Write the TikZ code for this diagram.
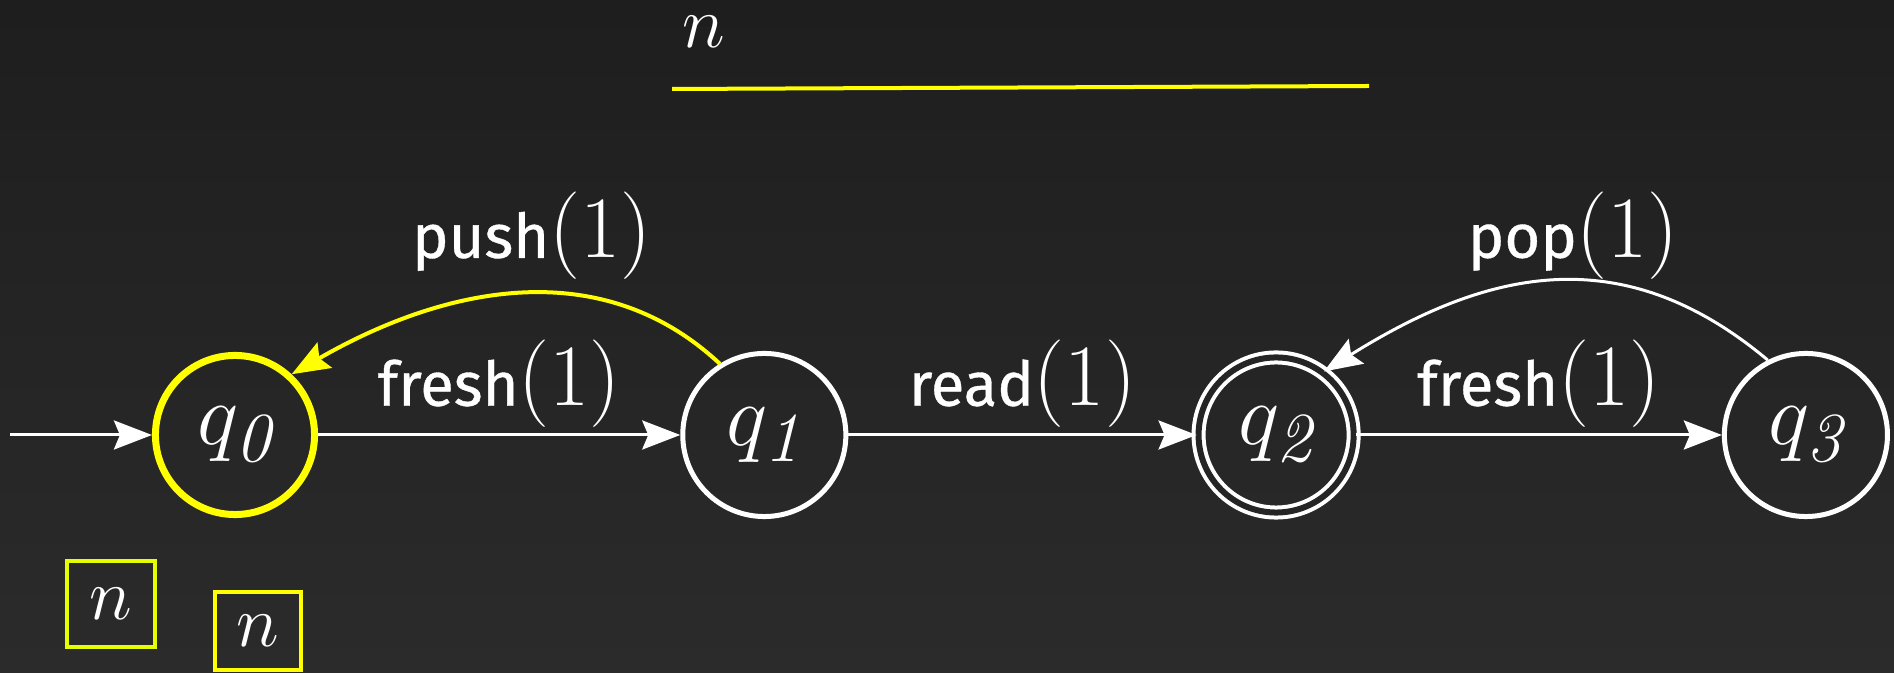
\documentclass[tikz,border=0pt]{standalone}
\usepackage{fontspec}
\setsansfont{Fira Sans}[FakeBold=0.6]
\usetikzlibrary{positioning,arrows.meta}
\definecolor{slideTop}{HTML}{1E1E1E}
\definecolor{slideBot}{HTML}{2B2B2B}
\definecolor{slideBg}{HTML}{252525}
\definecolor{hlYellow}{HTML}{FFFF00}
\definecolor{hlLime}{HTML}{E6FF00}
\newcommand{\oparg}[2]{\textsf{#1}{\fontsize{24}{24}\selectfont$(#2)$}}

\begin{document}
\begin{tikzpicture}[x=0.01cm, y=0.01cm,
                    state/.style={circle, draw=white, line width=0.05cm, minimum size=1.63cm,
                                  inner sep=0pt, text=white, font=\fontsize{40}{40}\selectfont},
                    curstate/.style={draw=hlYellow, line width=0.07cm, minimum size=1.59cm},
                    finalstate/.style={line width=0.04cm, double=slideBg, double distance=0.06cm,
                                       minimum size=1.55cm},
                    arr/.style={-{Stealth[length=0.38cm, width=0.29cm, inset=0.06cm]}, line width=0.03cm, color=white},
                    lbl/.style={text=white, font=\fontsize{17.5}{22}\selectfont, inner sep=0pt},
                    varbox/.style={draw, line width=0.04cm, inner sep=0pt, text=white,
                                   font=\fontsize{21}{21}\selectfont}
                ]
                    \shade[top color=slideTop, bottom color=slideBot] (0,0) rectangle (1894,673);
                    \useasboundingbox (0,0) rectangle (1894,673);

                    \node[state, curstate] (q0) at (235,238) {$q_{\scriptscriptstyle\mathit{0}}$};
                    \node[state, right=3.62cm of q0] (q1) {$q_{\scriptscriptstyle\mathit{1}}$};
                    \node[state, finalstate, right=3.48cm of q1] (q2) {$q_{\scriptscriptstyle\mathit{2}}$};
                    \node[state, right=3.66cm of q2] (q3) {$q_{\scriptscriptstyle\mathit{3}}$};
                    \coordinate (start) at (10,238);

                    \draw[arr] (start) -- (q0);
                    \draw[arr] (q0) -- node[lbl, above=0.06cm] {\oparg{fresh}{1}} (q1);
                    \draw[arr] (q1) -- node[lbl, above=0.06cm] {\oparg{read}{1}} (q2);
                    \draw[arr] (q2) -- node[lbl, above=0.06cm] {\oparg{fresh}{1}} (q3);
                    \draw[arr, color=hlYellow, line width=0.04cm] (q1.122) to[out=137, in=30]
                        node[lbl, above=0.12cm, pos=0.46] {\oparg{push}{1}} (q0.47);
                    \draw[arr] (q3.117) to[out=140, in=32, looseness=1.1]
                        node[lbl, above=0cm, pos=0.45] {\oparg{pop}{1}} (q2.53);

                    % the variable and its scope
                    \node[text=white, inner sep=0pt, font=\fontsize{22}{22}\selectfont] (nTop) at (704,641) {$n$};
                    \coordinate (scopeL) at (672,584);
                    \coordinate (scopeR) at (1369,587);
                    \draw[hlYellow, line width=0.04cm] (scopeL) -- (scopeR);

                    \node[varbox, draw=hlLime, minimum width=0.88cm, minimum height=0.85cm] (nBox1) at (111,69) {$n$};
                    \node[varbox, draw=hlYellow, minimum width=0.85cm, minimum height=0.78cm] (nBox2) at (258,42) {$n$};
                \end{tikzpicture}
\end{document}
